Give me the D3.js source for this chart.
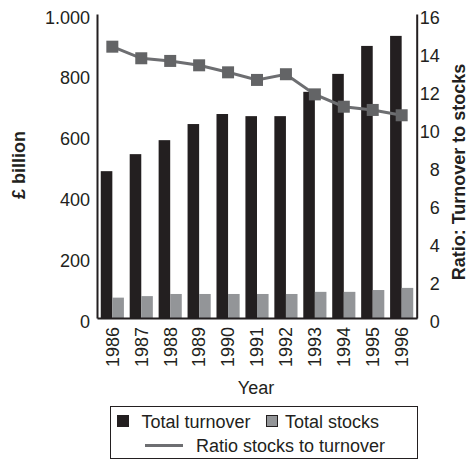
<!DOCTYPE html>
<html>
<head>
<meta charset="utf-8">
<script src="https://d3js.org/d3.v7.min.js"></script>
<style>
  body { margin: 0; background: #fff; }
  svg text { font-family: 'Liberation Sans', Arial, sans-serif; fill: #231f20; }
</style>
</head>
<body>
<svg id="chart" width="469" height="461"></svg>
<script>
var years = ['1986', '1987', '1988', '1989', '1990', '1991', '1992', '1993', '1994', '1995', '1996'];
var turnover = [483, 539, 585, 638, 671, 664, 664, 744, 803, 895, 928];
var stocks = [67, 72, 79, 79, 79, 79, 79, 86, 86, 92, 99];
var ratio = [14.28, 13.67, 13.53, 13.3, 12.93, 12.53, 12.83, 11.77, 11.12, 10.95, 10.67];
var leftTicks = [0, 200, 400, 600, 800, 1000];
var rightTicks = [0, 2, 4, 6, 8, 10, 12, 14, 16];

var svg = d3.select('#chart'),
    plotLeft = 97, plotRight = 417, plotTop = 14, plotBottom = 318;

var x = d3.scaleBand()
    .domain(years)
    .range([plotLeft, plotRight])
    .paddingInner(0.2)
    .paddingOuter(0.13);

var x1 = d3.scaleBand()
    .domain(['turnover', 'stocks'])
    .range([0, x.bandwidth()]);

var y = d3.scaleLinear().domain([0, 1000]).range([plotBottom, plotTop]);
var y2 = d3.scaleLinear().domain([0, 16]).range([plotBottom, plotTop]);

var z = d3.scaleOrdinal()
    .domain(['turnover', 'stocks'])
    .range(['#231f20', '#939598']);

var rows = years.map(function(d, i) {
  return {year: d, turnover: turnover[i], stocks: stocks[i], ratio: ratio[i]};
});

// bars
svg.append('g')
  .selectAll('g')
  .data(rows)
  .enter().append('g')
    .attr('transform', function(d) { return 'translate(' + x(d.year) + ',0)'; })
  .selectAll('rect')
  .data(function(d) { return ['turnover', 'stocks'].map(function(k) { return {key: k, value: d[k]}; }); })
  .enter().append('rect')
    .attr('x', function(d) { return x1(d.key); })
    .attr('y', function(d) { return y(d.value); })
    .attr('width', x1.bandwidth())
    .attr('height', function(d) { return y(0) - y(d.value); })
    .attr('fill', function(d) { return z(d.key); });

// axes
var fmt = function(d) { return d === 1000 ? '1.000' : String(d); };

var gl = svg.append('g')
    .attr('transform', 'translate(' + plotLeft + ',0)')
    .call(d3.axisLeft(y).tickValues(leftTicks).tickFormat(fmt).tickSize(0).tickPadding(7));

var gr = svg.append('g')
    .attr('transform', 'translate(' + (plotRight - 0.3) + ',0)')
    .call(d3.axisRight(y2).tickValues(rightTicks).tickSize(0).tickPadding(23));
gr.selectAll('text').attr('text-anchor', 'end');

var gb = svg.append('g')
    .attr('transform', 'translate(0,' + plotBottom + ')')
    .call(d3.axisBottom(x).tickSize(0).tickSizeOuter(0));
gb.selectAll('text')
    .attr('transform', 'rotate(-90)')
    .attr('text-anchor', 'end')
    .attr('x', -9)
    .attr('y', 0)
    .attr('dy', '0.35em');

[gl, gr, gb].forEach(function(g) {
  g.attr('font-size', 18).attr('font-family', null);
  g.select('.domain').attr('stroke', '#231f20').attr('stroke-width', 2);
  g.selectAll('text').attr('fill', '#231f20');
});
gl.selectAll('text').attr('dy', '0.5em');
gr.selectAll('text').attr('dy', '0.5em');

// ratio line
var line = d3.line()
    .x(function(d) { return x(d.year) + x.bandwidth() / 2; })
    .y(function(d) { return y2(d.ratio); });

svg.append('path')
    .datum(rows)
    .attr('d', line)
    .attr('fill', 'none')
    .attr('stroke', '#6d6e71')
    .attr('stroke-width', 3);

svg.append('g')
  .selectAll('rect')
  .data(rows)
  .enter().append('rect')
    .attr('x', function(d) { return x(d.year) + x.bandwidth() / 2 - 6; })
    .attr('y', function(d) { return y2(d.ratio) - 6; })
    .attr('width', 12)
    .attr('height', 12)
    .attr('fill', '#636466');

// axis titles
svg.append('text')
    .attr('transform', 'translate(25,165) rotate(-90)')
    .attr('text-anchor', 'middle')
    .attr('font-size', 18)
    .attr('font-weight', 'bold')
    .text('£ billion');

svg.append('text')
    .attr('transform', 'translate(465,172) rotate(-90)')
    .attr('text-anchor', 'middle')
    .attr('font-size', 18)
    .attr('font-weight', 'bold')
    .text('Ratio: Turnover to stocks');

svg.append('text')
    .attr('x', 256)
    .attr('y', 393.5)
    .attr('text-anchor', 'middle')
    .attr('font-size', 18)
    .text('Year');

// legend
var legend = svg.append('g').attr('font-size', 18);

legend.append('rect')
    .attr('x', 110.5).attr('y', 406.5)
    .attr('width', 307).attr('height', 52)
    .attr('fill', 'none')
    .attr('stroke', '#231f20')
    .attr('stroke-width', 1);

legend.append('rect')
    .attr('x', 117.5).attr('y', 415.5)
    .attr('width', 11).attr('height', 11)
    .attr('fill', z('turnover'))
    .attr('stroke', '#231f20');
legend.append('text').attr('x', 141.5).attr('y', 427.5).text('Total turnover');

legend.append('rect')
    .attr('x', 266.5).attr('y', 415.5)
    .attr('width', 11).attr('height', 11)
    .attr('fill', z('stocks'))
    .attr('stroke', '#231f20');
legend.append('text').attr('x', 285).attr('y', 427.5).text('Total stocks');

legend.append('line')
    .attr('x1', 145).attr('x2', 183)
    .attr('y1', 445.5).attr('y2', 445.5)
    .attr('stroke', '#6d6e71')
    .attr('stroke-width', 3);
legend.append('text').attr('x', 196).attr('y', 451.5).text('Ratio stocks to turnover');
</script>
</body>
</html>
